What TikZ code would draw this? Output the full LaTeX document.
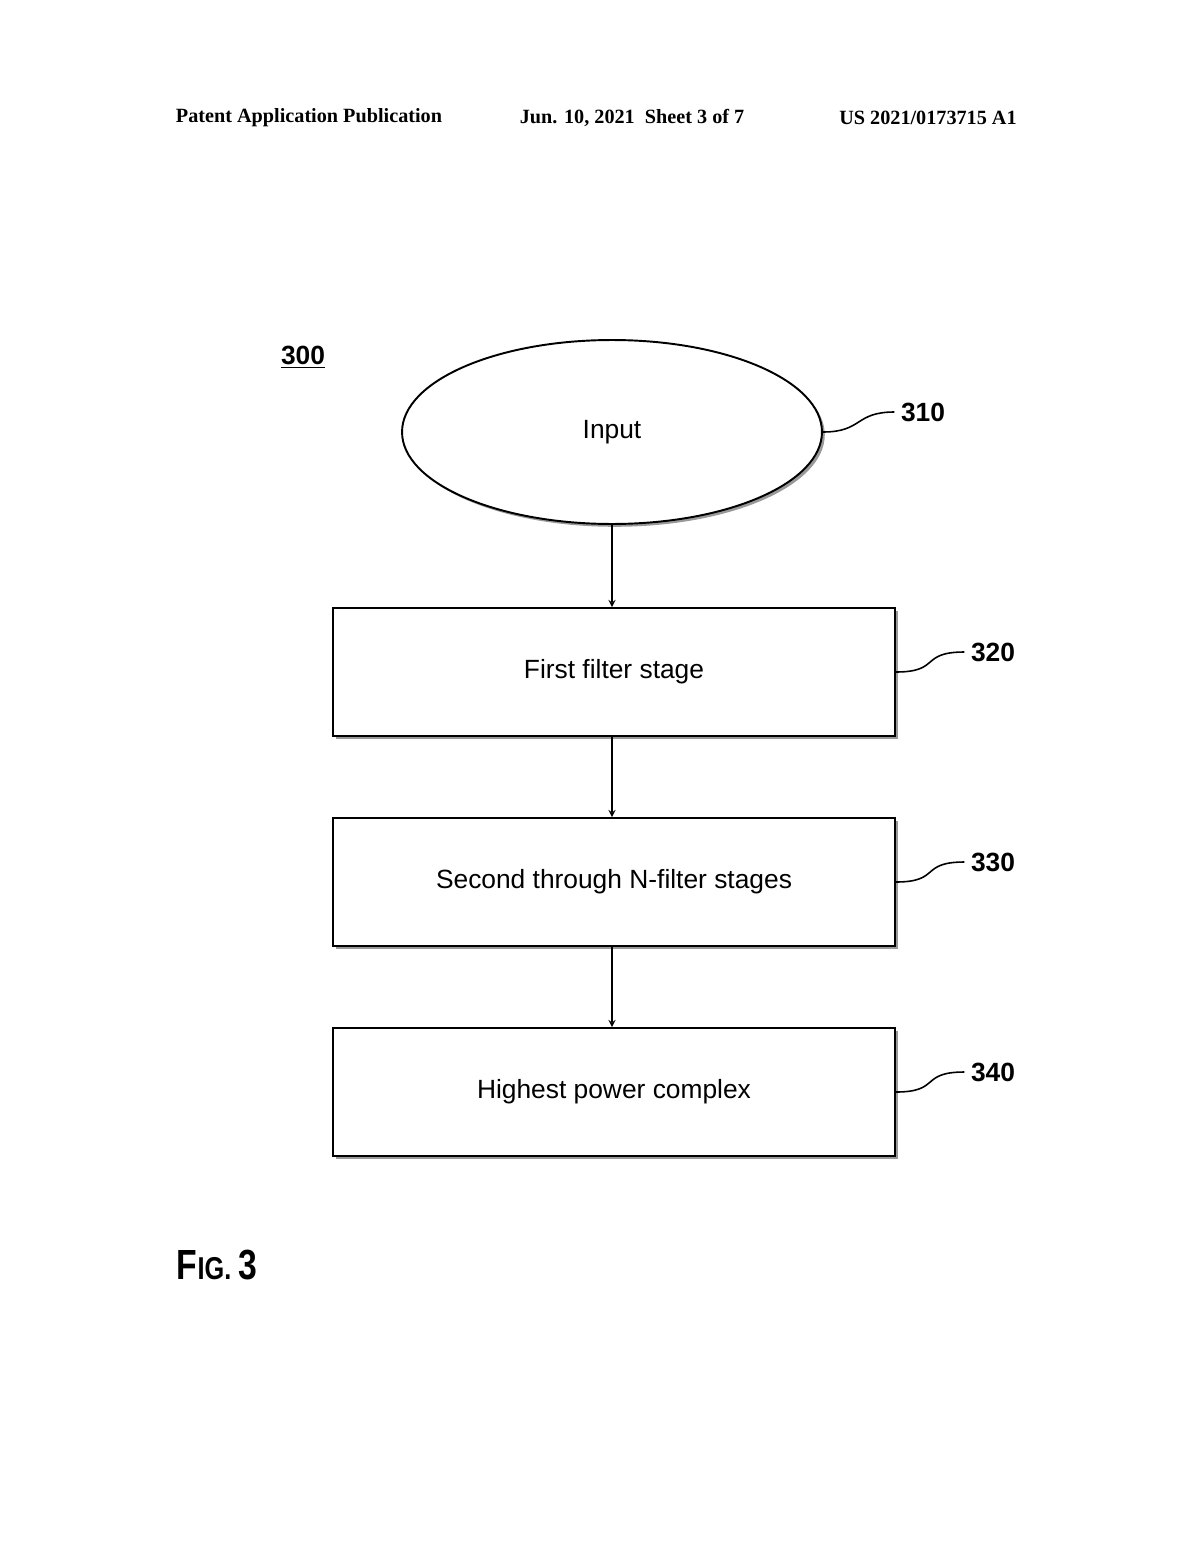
\documentclass[tikz,border=0pt]{standalone}
\usepackage{fontspec}
\setmainfont{Liberation Serif}
\newfontfamily\arial{Liberation Sans}
\usetikzlibrary{positioning,shapes.geometric,shadows}

\begin{document}
\begin{tikzpicture}[x=0.02cm,y=-0.02cm,>=stealth,thick,
    stage/.style={draw,line width=1.1pt,minimum width=11.24cm,minimum height=2.56cm,
      font=\arial\fontsize{15}{18}\selectfont,fill=white,
      drop shadow={shadow xshift=1.6pt,shadow yshift=-1.6pt,fill=gray!80,opacity=1}},
    ref/.style={font=\arial\bfseries\fontsize{15}{18}\selectfont},
    squig/.style={line width=0.9pt}]

\useasboundingbox (0,0) rectangle (1200,1547);

% header
\node[font=\bfseries\fontsize{11.5}{14}\selectfont] (pub) at (309,118) {Patent Application Publication};
\node[font=\bfseries\fontsize{11.5}{14}\selectfont] (date) at (632,118) {Jun. 10, 2021\ \ Sheet 3 of 7};
\node[font=\bfseries\fontsize{11.5}{14}\selectfont] (num) at (928,118) {US 2021/0173715 A1};

\node[ref] (fig) at (303,357) {\underline{300}};

\node[ellipse,draw,line width=1.1pt,minimum width=8.4cm,minimum height=3.68cm,
      font=\arial\fontsize{15}{18}\selectfont,fill=white,
      drop shadow={shadow xshift=1.6pt,shadow yshift=-1.6pt,fill=gray!80,opacity=1}]
      (input) at (612,432) {Input};
\node[stage] (first) at (614,672) {First filter stage};
\node[stage] (second) at (614,882) {Second through N-filter stages};
\node[stage] (high) at (614,1092) {Highest power complex};

\node[ref] (l310) at (923,412) {310};
\node[ref] (l320) at (993,652) {320};
\node[ref] (l330) at (993,862) {330};
\node[ref] (l340) at (993,1072) {340};

\draw[->] (input.south) -- (input.south |- first.north);
\draw[->] (input.south |- first.south) -- (input.south |- second.north);
\draw[->] (input.south |- second.south) -- (input.south |- high.north);

\draw[squig] (input.east) .. controls +(40,0) and +(-40,0) .. (l310.west);
\draw[squig] (first.east) .. controls +(45,0) and +(-45,0) .. (l320.west);
\draw[squig] (second.east) .. controls +(45,0) and +(-45,0) .. (l330.west);
\draw[squig] (high.east) .. controls +(45,0) and +(-45,0) .. (l340.west);

\node[font=\arial\bfseries\fontsize{24}{28}\selectfont,xscale=0.8] (caption) at (217,1265) {F\fontsize{18}{20}\selectfont IG. \fontsize{24}{28}\selectfont 3};
\end{tikzpicture}
\end{document}
